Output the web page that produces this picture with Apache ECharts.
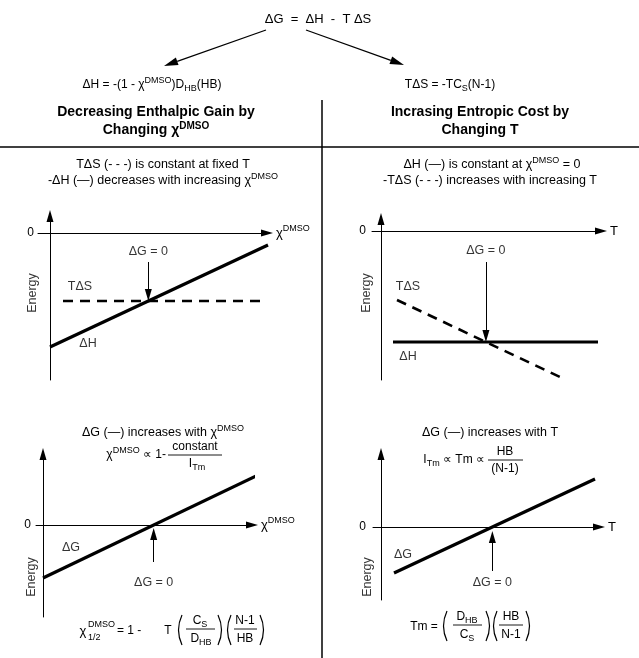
<!DOCTYPE html>
<html>
<head>
<meta charset="utf-8">
<script src="https://cdn.jsdelivr.net/npm/echarts@6/dist/echarts.min.js"></script>
<style>
  html, body { margin: 0; padding: 0; background: #fff; }
  #chart { width: 639px; height: 658px; }
</style>
</head>
<body>
<div id="chart"></div>
<script>
const FONT = '"Liberation Sans", Arial, Helvetica, sans-serif';

// Schematic energies (arbitrary units), one small set per panel.
// Panel A: -ΔH shrinks as the DMSO fraction grows, TΔS fixed at constant T
const aEnthalpy = [[0, -11.4], [21.8, -1.2]];
const aEntropy = [[1.3, -6.8], [21.7, -6.8]];
// Panel B: ΔH fixed at χ = 0, -TΔS grows with temperature
const bEnthalpy = [[1.2, -11.1], [21.7, -11.1]];
const bEntropy = [[1.6, -6.9], [17.9, -14.6]];
// Panel C: ΔG against the DMSO fraction
const cFreeEnergy = [[0, -5.3], [21.3, 4.9]];
// Panel D: ΔG against temperature
const dFreeEnergy = [[1.3, -4.6], [21.4, 4.8]];
// The only labelled energy tick
const energyTicks = [0];

// x where a straight segment reaches a given level
function crossAt(seg, level) {
  const [p, q] = seg;
  return p[0] + (level - p[1]) * (q[0] - p[0]) / (q[1] - p[1]);
}
const aCross = crossAt(aEnthalpy, aEntropy[0][1]);
const bCross = crossAt(bEntropy, bEnthalpy[0][1]);
const cCross = crossAt(cFreeEnergy, 0);
const dCross = crossAt(dFreeEnergy, 0);

const RICH = {
  n: { fontSize: 12, fontFamily: FONT, lineHeight: 17, color: '#000' },
  m: { fontSize: 12.5, fontFamily: FONT, lineHeight: 17, color: '#000' },
  sup: { fontSize: 9, fontFamily: FONT, verticalAlign: 'top', color: '#000' },
  sub: { fontSize: 9, fontFamily: FONT, verticalAlign: 'bottom', color: '#000' },
  b: { fontSize: 14, fontFamily: FONT, fontWeight: 'bold', lineHeight: 17, color: '#000' },
  bsup: { fontSize: 10, fontFamily: FONT, fontWeight: 'bold', verticalAlign: 'top', color: '#000' }
};

function txt(x, y, text, extra) {
  return {
    type: 'text', x: x, y: y, silent: true,
    style: Object.assign({
      text: text, fontFamily: FONT, fontSize: 12, fill: '#000',
      align: 'center', verticalAlign: 'middle', rich: RICH
    }, extra || {})
  };
}
function seg(x1, y1, x2, y2, w) {
  return { type: 'line', silent: true, shape: { x1, y1, x2, y2 },
           style: { stroke: '#000', lineWidth: w || 1 } };
}
function arrow(x1, y1, x2, y2) {
  const dx = x2 - x1, dy = y2 - y1, L = Math.hypot(dx, dy);
  const ux = dx / L, uy = dy / L, len = 14, hw = 4;
  const bx = x2 - ux * len, by = y2 - uy * len;
  return [
    seg(x1, y1, bx, by, 1.3),
    { type: 'polygon', silent: true,
      shape: { points: [[x2, y2], [bx - uy * hw, by + ux * hw], [bx + uy * hw, by - ux * hw]] },
      style: { fill: '#000' } }
  ];
}
// Tall thin bracket around a stacked fraction
function paren(x, yc, open) {
  const h = 30, bow = open ? -4 : 4, ex = open ? 3 : -3;
  return { type: 'bezierCurve', silent: true,
           shape: { x1: x + ex, y1: yc - h / 2, x2: x + ex, y2: yc + h / 2, cpx1: x + bow, cpy1: yc },
           style: { stroke: '#000', lineWidth: 1.2, fill: null } };
}
function fracLine(x1, x2, y) {
  return seg(x1, y, x2, y, 0.9);
}

const graphics = [].concat(
  // Gibbs relation and its two branches
  txt(318, 19, 'ΔG  =  ΔH  -  T ΔS', { fontSize: 13 }),
  arrow(266, 30, 164, 66),
  arrow(306, 30, 404, 65),
  txt(152, 85, '{n|ΔH = -(1 - χ}{sup|DMSO}{n|)D}{sub|HB}{n|(HB)}'),
  txt(450, 85, '{n|TΔS = -TC}{sub|S}{n|(N-1)}'),
  txt(156, 112, 'Decreasing Enthalpic Gain by', { fontSize: 14, fontWeight: 'bold' }),
  txt(156, 130, '{b|Changing χ}{bsup|DMSO}'),
  txt(480, 112, 'Incrasing Entropic Cost by', { fontSize: 14, fontWeight: 'bold' }),
  txt(480, 130, 'Changing T', { fontSize: 14, fontWeight: 'bold' }),
  seg(0, 147, 639, 147, 1.5),
  seg(322, 100, 322, 658, 1.5),

  // Panel A captions
  txt(163, 165, 'TΔS (- - -) is constant at fixed T', { fontSize: 12.5 }),
  txt(163, 181, '{m|-ΔH (—) decreases with increasing χ}{sup|DMSO}'),
  // Panel B captions
  txt(492, 165, '{m|ΔH (—) is constant at χ}{sup|DMSO}{m| = 0}'),
  txt(490, 181, '-TΔS (- - -) increases with increasing T', { fontSize: 12.5 }),

  // Panel C captions
  txt(163, 433, '{m|ΔG (—) increases with χ}{sup|DMSO}'),
  txt(166, 455, '{n|χ}{sup|DMSO}{n| ∝ 1-}', { align: 'right' }),
  txt(195, 447, 'constant'),
  fracLine(168, 222, 455),
  txt(197, 464, '{n|I}{sub|Tm}'),
  // Panel D captions
  txt(490, 433, 'ΔG (—) increases with T', { fontSize: 12.5 }),
  txt(485, 460, '{n|I}{sub|Tm}{n| ∝ Tm ∝}', { align: 'right' }),
  txt(505, 452, 'HB'),
  fracLine(488, 523, 460),
  txt(505, 469, '(N-1)'),

  // Panel C midpoint relation
  txt(83, 631, 'χ', { fontSize: 13 }),
  txt(88, 625, 'DMSO', { fontSize: 9, align: 'left' }),
  txt(88, 638, '1/2', { fontSize: 9, align: 'left' }),
  txt(117, 631, '= 1 -', { align: 'left' }),
  txt(168, 631, 'T'),
  paren(179, 630, true),
  txt(200, 621, '{n|C}{sub|S}'),
  fracLine(186, 215, 629),
  txt(201, 639, '{n|D}{sub|HB}'),
  paren(221, 630, false),
  paren(228, 630, true),
  txt(245, 621, 'N-1'),
  fracLine(234, 257, 629),
  txt(245, 639, 'HB'),
  paren(263, 630, false),

  // Panel D melting-temperature relation
  txt(424, 627, 'Tm ='),
  paren(444, 626, true),
  txt(467, 617, '{n|D}{sub|HB}'),
  fracLine(453, 482, 625),
  txt(467, 635, '{n|C}{sub|S}'),
  paren(489, 626, false),
  paren(494, 626, true),
  txt(511, 617, 'HB'),
  fracLine(499, 523, 625),
  txt(511, 635, 'N-1'),
  paren(529, 626, false)
);

const grids = [
  { left: 38, top: 216, width: 229, height: 164 },
  { left: 372, top: 219, width: 229, height: 161 },
  { left: 36, top: 454, width: 216, height: 163 },
  { left: 373, top: 454, width: 226, height: 146 }
];
const xRanges = [[-1.2, 21.7], [-0.9, 22.0], [-0.7, 20.9], [-0.8, 21.8]];
const yRanges = [[-14.7, 1.7], [-14.9, 1.2], [-9.2, 7.1], [-7.3, 7.3]];
const xNames = ['{c|χ}{s|DMSO}', '{c|T}', '{c|χ}{s|DMSO}', '{c|T}'];
const zeroLabelGap = [4, 6, 5, 7];

const xAxes = grids.map((g, i) => ({
  type: 'value', gridIndex: i, min: xRanges[i][0], max: xRanges[i][1],
  axisLine: { onZero: true, symbol: ['none', 'triangle'], symbolSize: [7, 12],
              lineStyle: { color: '#000', width: 1 } },
  axisTick: { show: false }, axisLabel: { show: false }, splitLine: { show: false },
  name: xNames[i], nameLocation: 'end', nameGap: 9,
  nameTextStyle: {
    rich: {
      c: { fontSize: 13, fontFamily: FONT, color: '#000', lineHeight: 18 },
      s: { fontSize: 9, fontFamily: FONT, color: '#000', verticalAlign: 'top' }
    }
  }
}));
const yAxes = grids.map((g, i) => ({
  type: 'value', gridIndex: i, min: yRanges[i][0], max: yRanges[i][1],
  axisLine: { onZero: true, symbol: ['none', 'triangle'], symbolSize: [7, 12],
              lineStyle: { color: '#000', width: 1 } },
  axisTick: { show: false }, splitLine: { show: false },
  axisLabel: { customValues: energyTicks, margin: zeroLabelGap[i], color: '#000', fontSize: 12, fontFamily: FONT }
}));

function curve(i, data, dashed) {
  return {
    type: 'line', xAxisIndex: i, yAxisIndex: i, data: data, clip: false,
    showSymbol: false, symbol: 'none', silent: true,
    lineStyle: { color: '#000', width: dashed ? 2.6 : 3.2, type: dashed ? [10, 7] : 'solid', cap: 'butt' }
  };
}
function notes(i, items, pointer) {
  return {
    type: 'scatter', xAxisIndex: i, yAxisIndex: i, symbolSize: 0, clip: false, silent: true,
    itemStyle: { color: '#000' },
    data: items.map(it => ({
      name: it[0], value: [it[1], it[2]],
      label: it[3] ? { rotate: 90 } : undefined
    })),
    label: { show: true, position: 'inside', formatter: '{b}', color: '#000',
             textBorderWidth: 0, textBorderColor: 'transparent',
             fontSize: 12.5, fontFamily: FONT },
    markLine: {
      silent: true, animation: false, symbol: ['none', 'triangle'], symbolSize: [7, 12],
      lineStyle: { color: '#000', width: 1, type: 'solid' },
      itemStyle: { color: '#000' },
      label: { show: false },
      data: [[{ coord: [pointer[0], pointer[1]] }, { coord: [pointer[0], pointer[2]] }]]
    }
  };
}

const series = [
  curve(0, aEnthalpy, false),
  curve(0, aEntropy, true),
  notes(0, [['ΔG = 0', aCross, -1.9], ['TΔS', 3.0, -5.4], ['ΔH', 3.8, -11.1], ['Energy', -1.7, -6.0, true]],
        [aCross, -2.9, -6.2]),
  curve(1, bEnthalpy, false),
  curve(1, bEntropy, true),
  notes(1, [['ΔG = 0', bCross, -2.0], ['TΔS', 2.7, -5.6], ['ΔH', 2.7, -12.6], ['Energy', -1.4, -6.2, true]],
        [bCross, -3.1, -10.5]),
  curve(2, cFreeEnergy, false),
  notes(2, [['ΔG = 0', cCross, -5.8], ['ΔG', 2.8, -2.3], ['Energy', -1.1, -5.2, true]],
        [cCross, -3.7, -0.9]),
  curve(3, dFreeEnergy, false),
  notes(3, [['ΔG = 0', dCross, -5.6], ['ΔG', 2.2, -2.8], ['Energy', -1.3, -5.0, true]],
        [dCross, -4.4, -1.0])
];

const chart = echarts.init(document.getElementById('chart'), null, { renderer: 'canvas' });
chart.setOption({
  animation: false,
  backgroundColor: '#fff',
  textStyle: { fontFamily: FONT, color: '#000' },
  grid: grids,
  xAxis: xAxes,
  yAxis: yAxes,
  series: series,
  graphic: graphics
});
</script>
</body>
</html>
